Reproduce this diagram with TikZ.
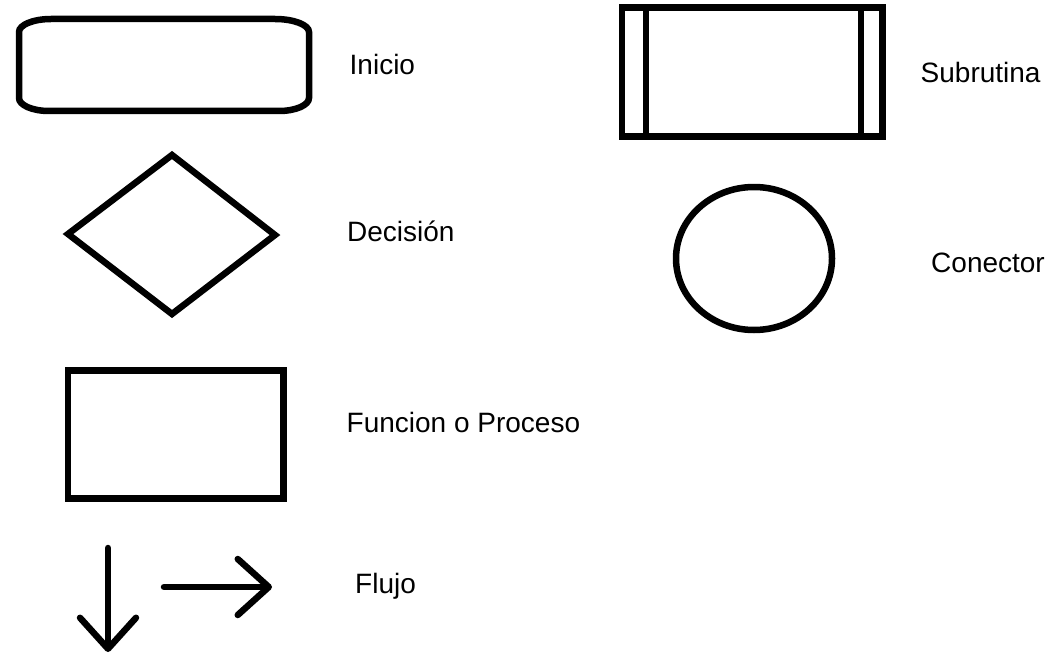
\documentclass[tikz,border=0pt]{standalone}
\usepackage{fontspec}
\setmainfont{Liberation Sans}
\usetikzlibrary{arrows.meta}

\begin{document}
\begin{tikzpicture}
  [x=1pt,y=-1pt,
   simbolo/.style={draw,line width=6.5pt},
   flecha/.style={simbolo,line cap=round,line join=round,
     -{Straight Barb[length=31pt,width=56pt,round]}},
   etiqueta/.style={anchor=base west,inner sep=0pt,
     font=\fontsize{28}{33}\selectfont}]
  \useasboundingbox (0,0) rectangle (1064,658);
  % inicio / fin
  \draw[simbolo] (51,19) -- (275,19)
    arc[start angle=270,end angle=360,x radius=34,y radius=13] -- (309,98)
    arc[start angle=0,end angle=90,x radius=30,y radius=13] -- (49,111)
    arc[start angle=90,end angle=180,x radius=30,y radius=13] -- (19,32)
    arc[start angle=180,end angle=270,x radius=32,y radius=13] -- cycle;
  % decision
  \draw[simbolo,line join=miter] (172,155) -- (275,235) -- (172,314) -- (68,234) -- cycle;
  % proceso
  \draw[simbolo] (68,370.5) rectangle (283.5,498.5);
  % subrutina
  \draw[simbolo] (622,7.5) rectangle (882.5,136.5);
  \draw[simbolo] (646,7.5) -- (646,136.5);
  \draw[simbolo] (861,7.5) -- (861,136.5);
  % conector
  \draw[simbolo] (754,258.5) ellipse[x radius=78,y radius=71.5];
  % flujo
  \coordinate (abajo0) at (108,548);
  \coordinate (abajo1) at (108,652);
  \coordinate (der0) at (164,587);
  \coordinate (der1) at (272,587);
  \draw[flecha] (abajo0) -- (abajo1);
  \draw[flecha] (der0) -- (der1);
  % textos
  \node[etiqueta] (inicio) at (349.5,74.3) {Inicio};
  \node[etiqueta] (decision) at (347,241) {Decisión};
  \node[etiqueta] (proceso) at (346.5,432) {Funcion o Proceso};
  \node[etiqueta] (flujo) at (355,593.3) {Flujo};
  \node[etiqueta] (subrutina) at (920.5,82.3) {Subrutina};
  \node[etiqueta] (conector) at (931,272.3) {Conector};
\end{tikzpicture}
\end{document}
